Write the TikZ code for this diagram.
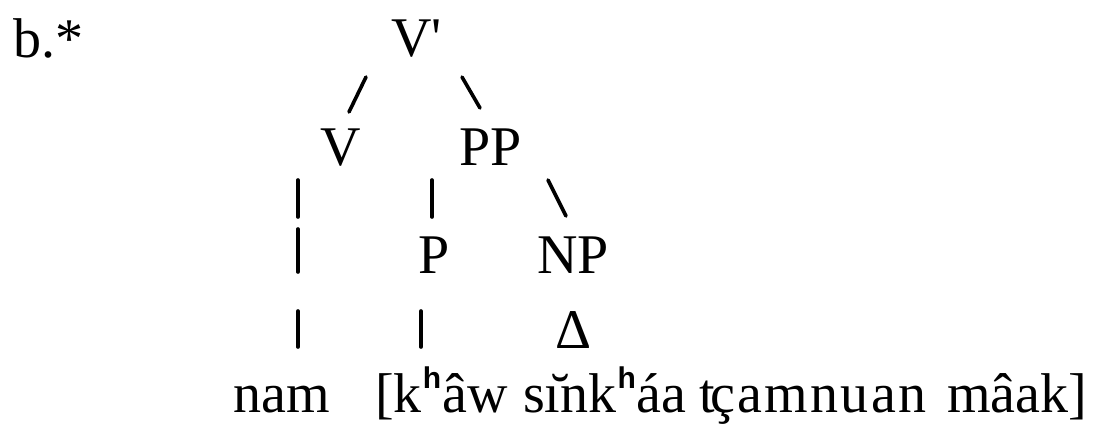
\documentclass[tikz,border=0pt]{standalone}
\usepackage{fontspec}
\setmainfont{Liberation Serif}
\newfontfamily\supfont{Liberation Sans}
\begin{document}
\begin{tikzpicture}[x=1pt,y=-1pt,
  lbl/.style={inner sep=0pt,anchor=base west,font=\fontsize{56}{60}\selectfont},
  br/.style={line width=3.6pt,line cap=round}]
\useasboundingbox (0,0) rectangle (1093,424);
\newcommand{\asp}{\raisebox{24pt}{\supfont\bfseries\fontsize{30}{32}\selectfont h}}
\node[lbl] (b) at (13,57) {b.*};
\node[lbl] (vbar) at (391,56) {V\textquotesingle};
\node[lbl] (v) at (320,165) {V};
\node[lbl] (pp) at (459,165) {PP};
\node[lbl] (p) at (418,273) {P};
\node[lbl] (np) at (537,273) {NP};
\node[lbl] (np2) at (555,348) {Δ};
\node[lbl] (w1) at (233,412) {nam};
\node[lbl] (w2) at (375,412) {[k\kern1pt\asp\kern1pt âw};
\node[lbl] (w3) at (523,412) {s\u{ı}nk\kern1pt\asp\kern1pt áa};
\node[lbl] (w4) at (699,412) {\addfontfeature{LetterSpace=4}t\kern-4ptçamnuan};
\node[lbl] (w5) at (947,412) {mâak]};
% connectors
\coordinate (a1) at (366,77); \coordinate (a2) at (349,112);
\coordinate (b1) at (462,77); \coordinate (b2) at (480,108);
\coordinate (c1) at (298,180); \coordinate (c2) at (298,217);
\coordinate (d1) at (432,180); \coordinate (d2) at (432,217);
\coordinate (e1) at (548,180); \coordinate (e2) at (566,216);
\coordinate (f1) at (298,229); \coordinate (f2) at (298,272);
\coordinate (g1) at (298,311); \coordinate (g2) at (298,347);
\coordinate (h1) at (421,311); \coordinate (h2) at (421,347);
\draw[br] (a1) -- (a2);
\draw[br] (b1) -- (b2);
\draw[br] (c1) -- (c2);
\draw[br] (d1) -- (d2);
\draw[br] (e1) -- (e2);
\draw[br] (f1) -- (f2);
\draw[br] (g1) -- (g2);
\draw[br] (h1) -- (h2);
\end{tikzpicture}
\end{document}
